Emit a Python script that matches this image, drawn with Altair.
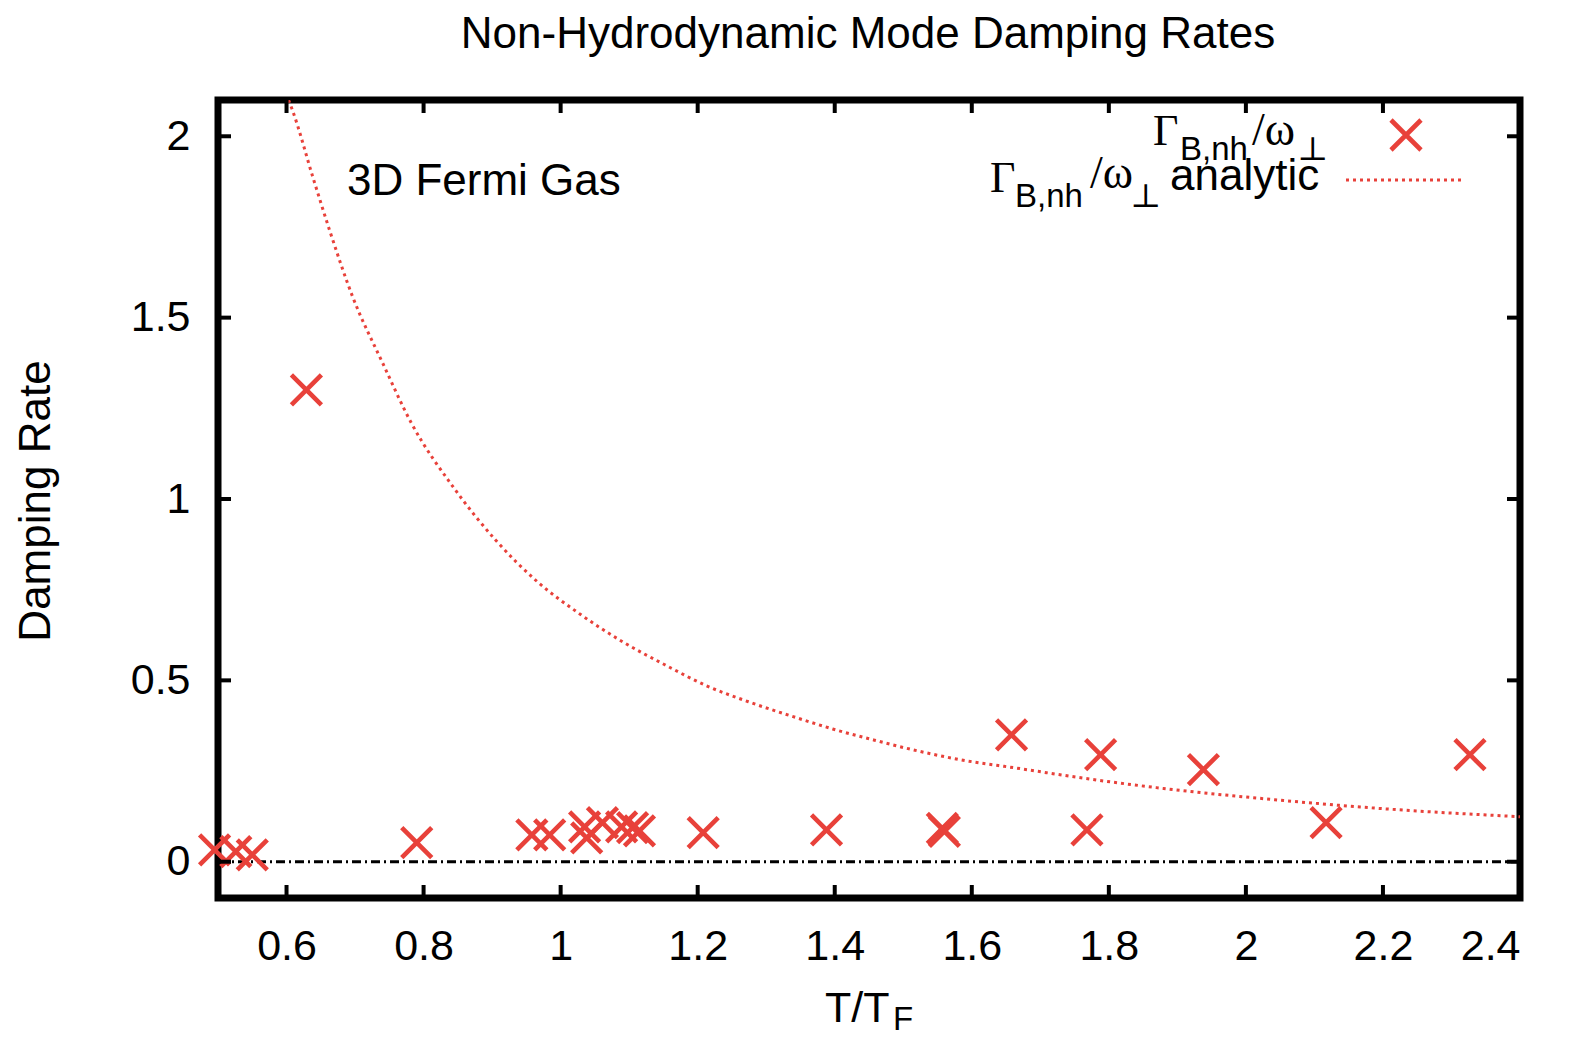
import altair as alt
import pandas as pd

# ---- data ----
x_data = [0.495, 0.526, 0.550, 0.629, 0.790, 0.958, 0.984, 1.035, 1.038, 1.061,
          1.089, 1.105, 1.115, 1.208, 1.388, 1.557, 1.560, 1.658, 1.768, 1.788,
          1.938, 2.117, 2.327]
y_data = [0.033, 0.028, 0.019, 1.301, 0.053, 0.074, 0.074, 0.096, 0.066, 0.108,
          0.096, 0.094, 0.085, 0.080, 0.088, 0.092, 0.084, 0.350, 0.088, 0.295,
          0.254, 0.108, 0.295]

curve_x = [0.603, 0.609, 0.638, 0.663, 0.696, 0.740, 0.782, 0.844, 0.905, 0.966,
           1.028, 1.089, 1.152, 1.213, 1.274, 1.336, 1.397, 1.458, 1.520, 1.581,
           1.673, 1.753, 1.898, 2.042, 2.187, 2.400]
curve_y = [2.10, 2.07, 1.89, 1.74, 1.56, 1.376, 1.210, 1.031, 0.887, 0.772,
           0.683, 0.608, 0.543, 0.485, 0.441, 0.402, 0.366, 0.335, 0.306, 0.282,
           0.256, 0.233, 0.198, 0.171, 0.148, 0.124]

x_ticks = [0.6, 0.8, 1.0, 1.2, 1.4, 1.6, 1.8, 2.0, 2.2, 2.4]
y_ticks = [0.0, 0.5, 1.0, 1.5, 2.0]
zero_line = [0.0]

W, H = 1302, 798
RED = "#e8413a"
SANS = "Liberation Sans"
SERIF = "Liberation Serif, DejaVu Serif"
XSHAPE = "M-1,-1L1,1M1,-1L-1,1"

xscale = alt.Scale(domain=[0.5, 2.4], nice=False, zero=False)
yscale = alt.Scale(domain=[-0.1, 2.1], nice=False, zero=False)

pts_df = pd.DataFrame({"x": x_data, "y": y_data})
curve_df = pd.DataFrame({"x": curve_x, "y": curve_y})
xt_df = pd.DataFrame({"t": x_ticks})
yt_df = pd.DataFrame({"t": y_ticks})
zero_df = pd.DataFrame({"z": zero_line})
one = pd.DataFrame({"a": [0]})

axis_common = dict(domain=False, ticks=False, grid=False, title=None,
                   labelFont=SANS, labelFontSize=43, labelColor="black",
                   format="~g")

points = alt.Chart(pts_df).mark_point(
    shape=XSHAPE, size=900, strokeWidth=4.6, color=RED, filled=False, opacity=1
).encode(
    x=alt.X("x:Q", scale=xscale,
            axis=alt.Axis(values=x_ticks, labelPadding=27, **axis_common)),
    y=alt.Y("y:Q", scale=yscale,
            axis=alt.Axis(values=y_ticks, labelPadding=28, **axis_common)),
)

curve = alt.Chart(curve_df).mark_line(
    color=RED, strokeWidth=3, strokeDash=[3, 4], interpolate="monotone", clip=True
).encode(x=alt.X("x:Q", scale=xscale), y=alt.Y("y:Q", scale=yscale))

zero = alt.Chart(zero_df).mark_rule(
    color="black", strokeWidth=2.8, strokeDash=[9, 4, 2, 4]
).encode(y=alt.Y("z:Q", scale=yscale))

TL = 13
tick_bottom = alt.Chart(xt_df).mark_rule(color="black", strokeWidth=4).encode(
    x=alt.X("t:Q", scale=xscale), y=alt.value(H), y2=alt.value(H - TL))
tick_top = alt.Chart(xt_df).mark_rule(color="black", strokeWidth=4).encode(
    x=alt.X("t:Q", scale=xscale), y=alt.value(0), y2=alt.value(TL))
tick_left = alt.Chart(yt_df).mark_rule(color="black", strokeWidth=4).encode(
    y=alt.Y("t:Q", scale=yscale), x=alt.value(0), x2=alt.value(TL))
tick_right = alt.Chart(yt_df).mark_rule(color="black", strokeWidth=4).encode(
    y=alt.Y("t:Q", scale=yscale), x=alt.value(W), x2=alt.value(W - TL))


def label(text, x, y, size, font=SANS, align="left", baseline="alphabetic", angle=0):
    return alt.Chart(one).mark_text(
        text=text, font=font, fontSize=size, align=align, baseline=baseline,
        angle=angle, color="black"
    ).encode(x=alt.value(x), y=alt.value(y))


texts = [
    label("Non-Hydrodynamic Mode Damping Rates", 650, -52, 44, align="center"),
    label("3D Fermi Gas", 129, 95, 44),
    label("Damping Rate", -181, 401, 44, align="center", baseline="middle", angle=270),
    label("T/T", 607, 922, 43),
    label("F", 675, 930, 33),
    # legend row 1
    label("Γ", 935, 45, 44, font=SERIF),
    label("B,nh", 962, 60, 33),
    label("/ω", 1034, 45, 46, font=SERIF),
    label("⊥", 1079, 60, 33, font=SERIF),
    # legend row 2
    label("Γ", 772, 92, 44, font=SERIF),
    label("B,nh", 797, 107, 33),
    label("/ω", 872, 88, 46, font=SERIF),
    label("⊥", 912, 107, 33, font=SERIF),
    label("analytic", 952, 90, 44),
]

legend_marker = alt.Chart(one).mark_point(
    shape=XSHAPE, size=900, strokeWidth=4.6, color=RED, filled=False, opacity=1
).encode(x=alt.value(1188), y=alt.value(35))

legend_line = alt.Chart(one).mark_rule(
    color=RED, strokeWidth=3, strokeDash=[3, 4]
).encode(x=alt.value(1128), x2=alt.value(1245), y=alt.value(80))

chart = alt.layer(
    zero, curve, points, tick_bottom, tick_top, tick_left, tick_right,
    legend_marker, legend_line, *texts
).properties(
    width=W, height=H,
    padding={"left": 210, "top": 92, "right": 42, "bottom": 140},
    autosize=alt.AutoSizeParams(type="none"),
).configure_view(
    stroke="black", strokeWidth=7
)

chart.save("out.html", embed_options={"renderer": "svg", "actions": False})
